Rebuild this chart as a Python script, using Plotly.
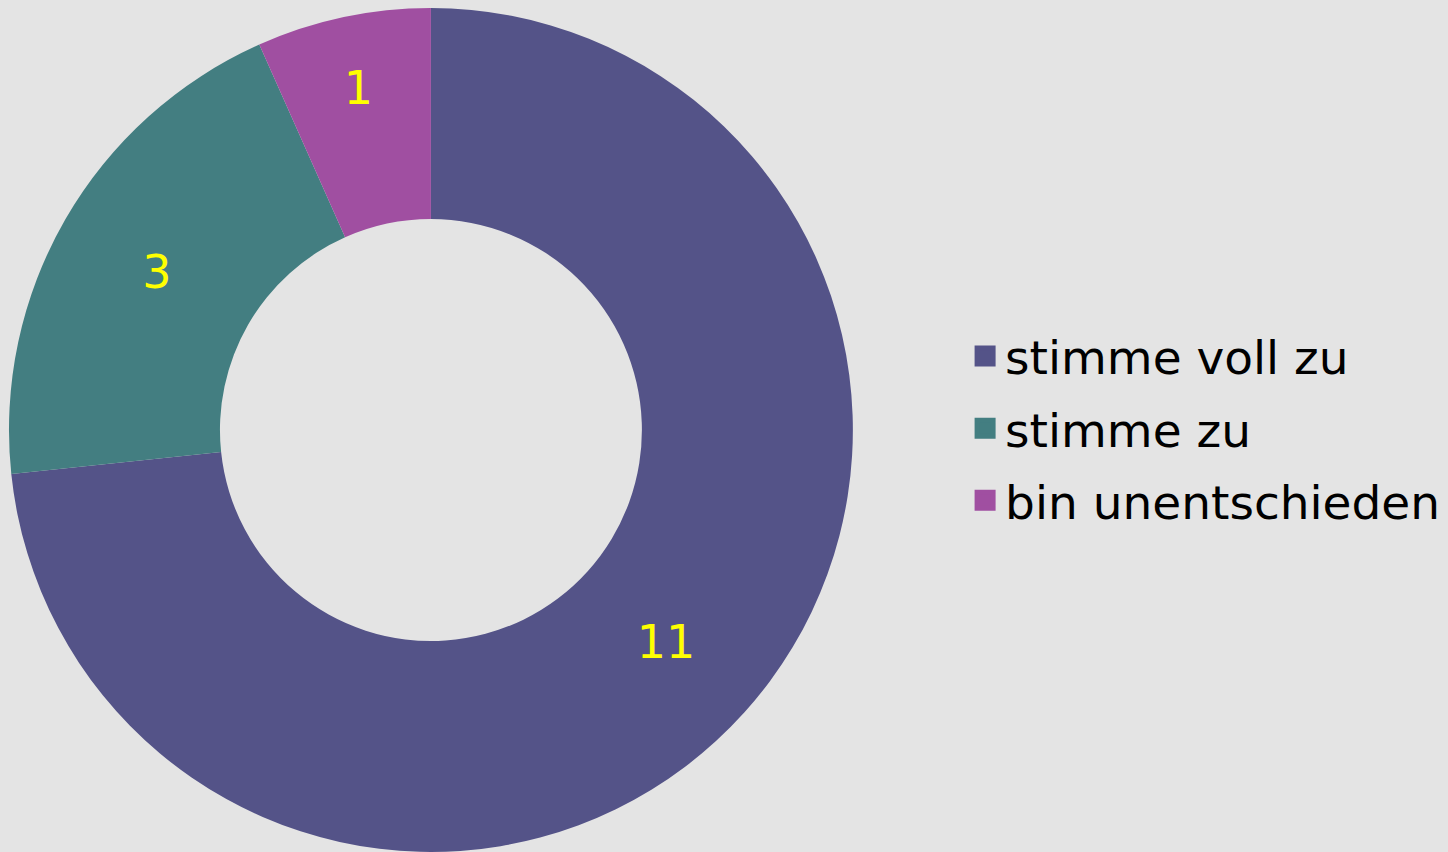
import plotly.graph_objects as go

# Antwortverteilung
labels = ["stimme voll zu", "stimme zu", "bin unentschieden"]
counts = [11, 3, 1]
colors = ["#545388", "#437E81", "#A04FA1"]

FONT = "Verdana, DejaVu Sans, sans-serif"

fig = go.Figure()

fig.add_trace(go.Pie(
    labels=labels,
    values=counts,
    hole=0.5,
    sort=False,
    direction="clockwise",
    rotation=0,
    marker=dict(colors=colors, line=dict(width=0)),
    textinfo="value",
    textposition="inside",
    insidetextorientation="horizontal",
    textfont=dict(color="#FFFF00", size=46, family=FONT),
    domain=dict(x=[0.0062, 0.589], y=[0, 0.9906]),
    showlegend=False,
))

# legend entries (bigger squares, more spacing than the pie legend allows)
for name, col in zip(labels, colors):
    fig.add_trace(go.Scatter(
        x=[None], y=[None], name=name, mode="markers",
        legendgroup=name,
        marker=dict(symbol="square", size=16, color=col, line=dict(color=col, width=5)),
    ))

fig.update_layout(
    width=1448, height=852,
    paper_bgcolor="#E4E4E4",
    plot_bgcolor="#E4E4E4",
    margin=dict(l=0, r=0, t=0, b=0),
    font=dict(family=FONT, color="#000000"),
    xaxis=dict(visible=False),
    yaxis=dict(visible=False),
    legend=dict(
        x=0.6665, y=0.497, xanchor="left", yanchor="middle",
        font=dict(size=47, color="#000000"),
        bgcolor="rgba(0,0,0,0)",
        tracegroupgap=8,
    ),
)

fig.write_html(
    "out.html",
    config={"displayModeBar": False},
    post_script="document.body.style.margin='0';document.body.style.overflow='hidden';",
)
